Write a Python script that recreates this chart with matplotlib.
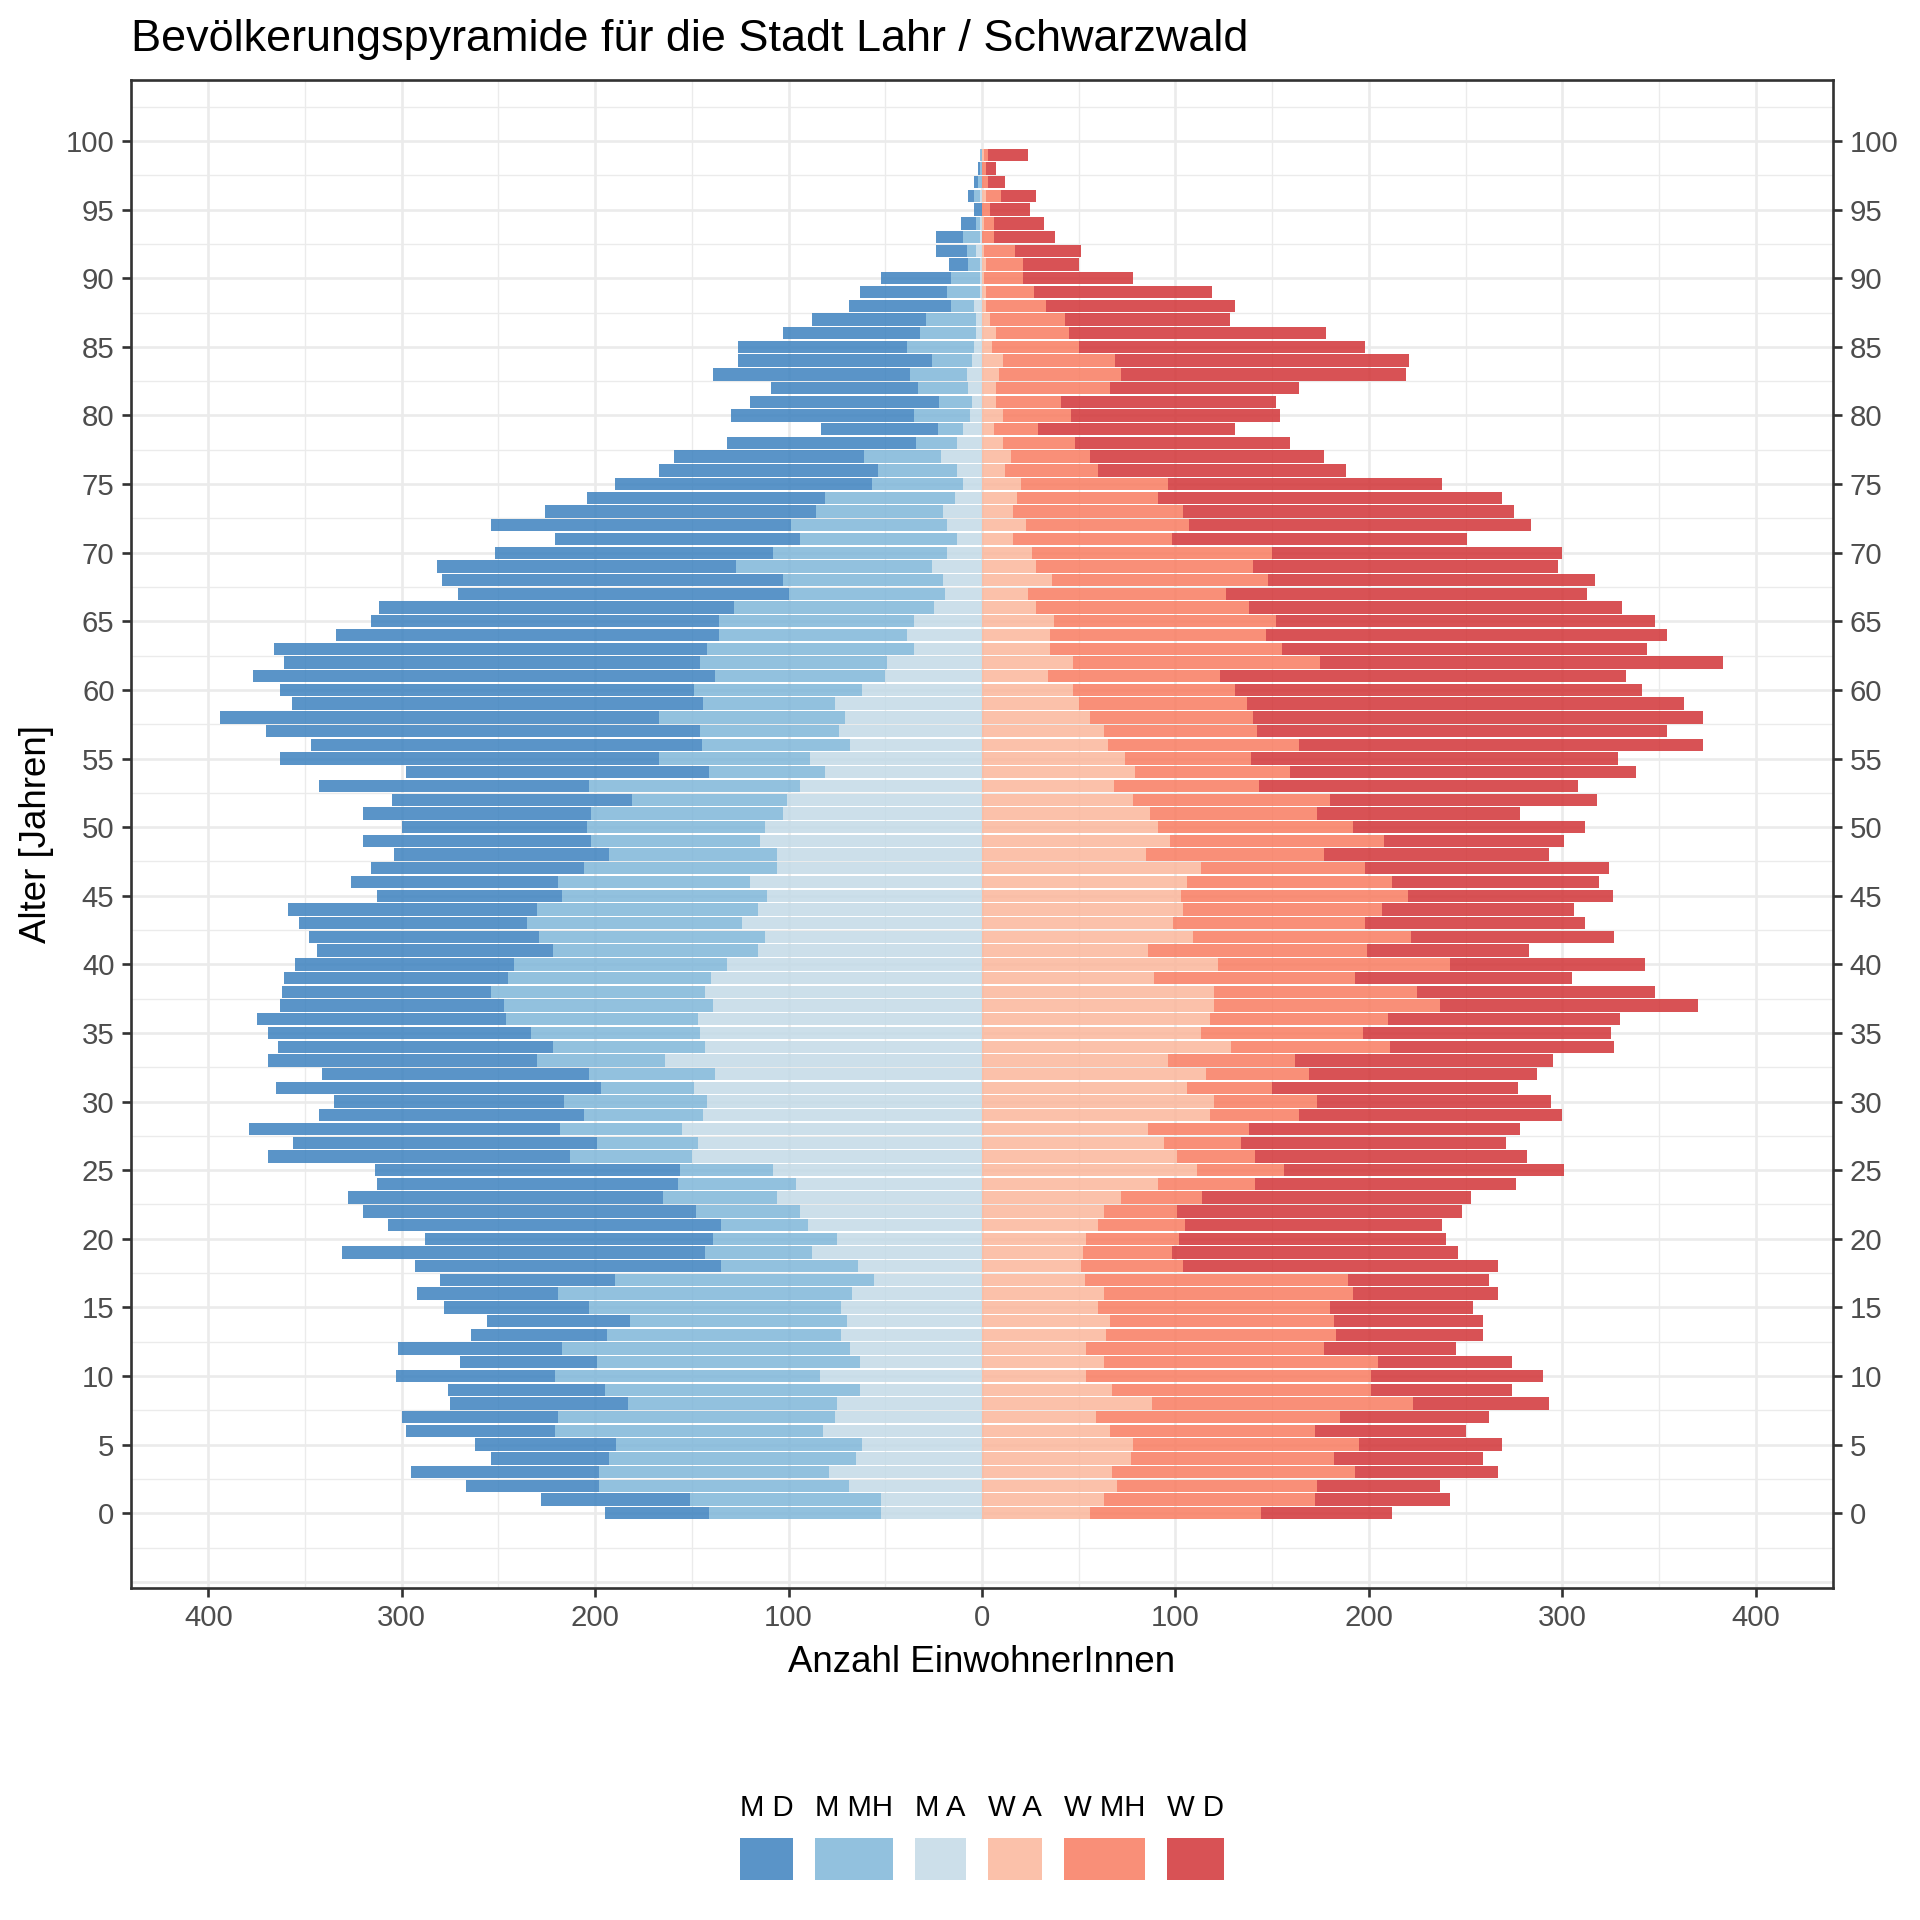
import numpy as np
import matplotlib
matplotlib.use("Agg")
import matplotlib.pyplot as plt
from matplotlib.ticker import FixedLocator, MultipleLocator, FuncFormatter
from matplotlib.patches import Rectangle

plt.rcParams['font.family'] = ['Liberation Sans', 'DejaVu Sans']

ages = np.arange(0, 100)

# men: cumulative edges (A, A+MH, A+MH+D)
m_a = [52, 52, 69, 79, 65, 62, 82, 76, 75, 63, 84, 63, 68, 73, 70, 73, 67, 56, 64, 88,
       75, 90, 94, 106, 96, 108, 150, 147, 155, 144, 142, 149, 138, 164, 143, 146, 147, 139, 143, 140,
       132, 116, 112, 124, 116, 111, 120, 106, 106, 115, 112, 103, 101, 94, 81, 89, 68, 74, 71, 76,
       62, 50, 49, 35, 39, 35, 25, 19, 20, 26, 18, 13, 18, 20, 14, 10, 13, 21, 13, 10,
       6, 5, 7, 8, 5, 4, 3, 3, 4, 1, 1, 1, 3, 1, 1, 0, 1, 0, 0, 0]
m_amh = [141, 151, 198, 198, 193, 189, 221, 219, 183, 195, 221, 199, 217, 194, 182, 203, 219, 190, 135, 143,
         139, 135, 148, 165, 157, 156, 213, 199, 218, 206, 216, 197, 203, 230, 222, 233, 246, 247, 254, 245,
         242, 222, 229, 235, 230, 217, 219, 206, 193, 202, 204, 202, 181, 203, 141, 167, 145, 146, 167, 144,
         149, 138, 146, 142, 136, 136, 128, 100, 103, 127, 108, 94, 99, 86, 81, 57, 54, 61, 34, 23,
         35, 22, 33, 37, 26, 39, 32, 29, 16, 18, 16, 7, 8, 10, 3, 0, 4, 2, 1, 1]
m_all = [195, 228, 267, 295, 254, 262, 298, 300, 275, 276, 303, 270, 302, 264, 256, 278, 292, 280, 293, 331,
         288, 307, 320, 328, 313, 314, 369, 356, 379, 343, 335, 365, 341, 369, 364, 369, 375, 363, 362, 361,
         355, 344, 348, 353, 359, 313, 326, 316, 304, 320, 300, 320, 305, 343, 298, 363, 347, 370, 394, 357,
         363, 377, 361, 366, 334, 316, 312, 271, 279, 282, 252, 221, 254, 226, 204, 190, 167, 159, 132, 83,
         130, 120, 109, 139, 126, 126, 103, 88, 69, 63, 52, 17, 24, 24, 11, 4, 7, 4, 2, 1]

# women: cumulative edges (A, A+MH, A+MH+D)
w_a = [56, 63, 70, 67, 77, 78, 66, 59, 88, 67, 54, 63, 54, 64, 66, 60, 63, 53, 51, 52,
       54, 60, 63, 72, 91, 111, 101, 94, 86, 118, 120, 106, 116, 96, 129, 113, 118, 120, 120, 89,
       122, 86, 109, 99, 104, 103, 106, 113, 85, 97, 91, 87, 78, 68, 79, 74, 65, 63, 56, 50,
       47, 34, 47, 35, 35, 37, 28, 24, 36, 28, 26, 16, 23, 16, 18, 20, 12, 15, 11, 6,
       11, 7, 7, 9, 11, 5, 7, 4, 2, 2, 1, 2, 1, 0, 1, 0, 2, 0, 0, 1]
w_amh = [144, 172, 173, 193, 182, 195, 172, 185, 223, 201, 201, 205, 177, 183, 182, 180, 192, 189, 104, 98,
         102, 105, 101, 114, 141, 156, 141, 134, 138, 164, 173, 150, 169, 162, 211, 197, 210, 237, 225, 193,
         242, 199, 222, 198, 207, 220, 212, 198, 177, 208, 192, 173, 180, 143, 159, 139, 164, 142, 140, 137,
         131, 123, 175, 155, 147, 152, 138, 126, 148, 140, 150, 98, 107, 104, 91, 96, 60, 56, 48, 29,
         46, 41, 66, 72, 69, 50, 45, 43, 33, 27, 21, 21, 17, 6, 6, 4, 10, 3, 2, 3]
w_all = [212, 242, 237, 267, 259, 269, 250, 262, 293, 274, 290, 274, 245, 259, 259, 254, 267, 262, 267, 246,
         240, 238, 248, 253, 276, 301, 282, 271, 278, 300, 294, 277, 287, 295, 327, 325, 330, 370, 348, 305,
         343, 283, 327, 312, 306, 326, 319, 324, 293, 301, 312, 278, 318, 308, 338, 329, 373, 354, 373, 363,
         341, 333, 383, 344, 354, 348, 331, 313, 317, 298, 300, 251, 284, 275, 269, 238, 188, 177, 159, 131,
         154, 152, 164, 219, 221, 198, 178, 128, 131, 119, 78, 50, 51, 38, 32, 25, 28, 12, 7, 24]

labels = ["M D", "M MH", "M A", "W A", "W MH", "W D"]
colors = ["#3d82bf", "#7fb6d9", "#c3dae7", "#fbb69b", "#f97c60", "#d23437"]
ALPHA = 0.85

m_a, m_amh, m_all = np.array(m_a), np.array(m_amh), np.array(m_all)
w_a, w_amh, w_all = np.array(w_a), np.array(w_amh), np.array(w_all)

fig = plt.figure(figsize=(8, 8), dpi=240)
ax = fig.add_axes([131 / 1920, 1 - 1588 / 1920, 1702 / 1920, 1508 / 1920])

kw = dict(height=0.9, linewidth=0, alpha=ALPHA, zorder=2)
# men to the left
ax.barh(ages, -m_a, color=colors[2], **kw)
ax.barh(ages, -(m_amh - m_a), left=-m_a, color=colors[1], **kw)
ax.barh(ages, -(m_all - m_amh), left=-m_amh, color=colors[0], **kw)
# women to the right
ax.barh(ages, w_a, color=colors[3], **kw)
ax.barh(ages, w_amh - w_a, left=w_a, color=colors[4], **kw)
ax.barh(ages, w_all - w_amh, left=w_amh, color=colors[5], **kw)

ax.set_xlim(-440, 440)
ax.set_ylim(-5.45, 104.45)

grid_c = "#ebebeb"
ax.xaxis.set_major_locator(FixedLocator(range(-400, 401, 100)))
ax.xaxis.set_minor_locator(MultipleLocator(50))
ax.xaxis.set_major_formatter(FuncFormatter(lambda v, p: f"{abs(int(v))}"))
ax.yaxis.set_major_locator(FixedLocator(range(0, 101, 5)))
ax.yaxis.set_minor_locator(MultipleLocator(2.5))
ax.grid(which='major', color=grid_c, linewidth=0.8, zorder=0)
ax.grid(which='minor', color=grid_c, linewidth=0.4, zorder=0)
ax.axhline(-5, color=grid_c, linewidth=0.8, zorder=0)
ax.set_axisbelow(True)

ax.tick_params(which='major', length=2.75, width=0.8, color="#333333",
               labelsize=8.8, labelcolor="#4d4d4d", pad=2.2,
               right=True, labelright=True)
ax.tick_params(which='minor', length=0)
for s in ax.spines.values():
    s.set_color("#333333")
    s.set_linewidth(0.8)

ax.set_title("Bevölkerungspyramide für die Stadt Lahr / Schwarzwald",
             loc='left', fontsize=13.5, pad=8.8)
ax.set_xlabel("Anzahl EinwohnerInnen", fontsize=11)
ax.xaxis.label.set_va('baseline')
ax.xaxis.set_label_coords(0.5, -(1672 - 1588) / 1508)
ax.set_ylabel("Alter [Jahren]", fontsize=11)
ax.yaxis.label.set_va('center')
ax.yaxis.set_label_coords(-(131 - 37) / 1702, 0.5)

# legend: labels above keys, key width follows label width
fig.canvas.draw()
r = fig.canvas.get_renderer()
W, H = fig.bbox.width, fig.bbox.height
texts = [fig.text(0, 0, lab, fontsize=8.8, ha='center', va='center') for lab in labels]
widths = [t.get_window_extent(r).width for t in texts]
gap = 22
total = sum(widths) + gap * (len(widths) - 1)
x = 982 - total / 2
for t, w, c in zip(texts, widths, colors):
    t.set_position(((x + w / 2) / W, 1 - 1808 / H))
    fig.add_artist(Rectangle((x / W, 1 - 1880 / H), w / W, 42 / H,
                             transform=fig.transFigure, facecolor=c,
                             alpha=ALPHA, linewidth=0))
    x += w + gap

fig.savefig("out.png", dpi=240)
